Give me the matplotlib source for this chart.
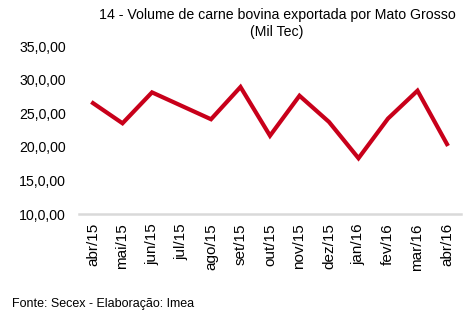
import matplotlib
matplotlib.use("Agg")
import matplotlib.pyplot as plt

months = ["abr/15", "mai/15", "jun/15", "jul/15", "ago/15", "set/15", "out/15",
          "nov/15", "dez/15", "jan/16", "fev/16", "mar/16", "abr/16"]
volume = [26.5, 23.5, 28.1, 26.1, 24.1, 28.9, 21.65, 27.6, 23.7, 18.3, 24.2, 28.35, 20.4]
yticks = [10, 15, 20, 25, 30, 35]
ytick_labels = ["10,0,00", "15,0,00", "20,0,00", "25,0,00", "30,0,00", "35,0,00"]

plt.rcParams['font.family'] = ['Liberation Sans', 'DejaVu Sans']

fig = plt.figure(figsize=(4.77, 3.24), dpi=100)
ax = fig.add_axes([79/477, 1 - 214/324, (461-79)/477, (214-46)/324])

x = list(range(len(months)))
ax.plot(x, volume, color="#C8001A", linewidth=3.0, solid_joinstyle="miter")

ax.set_ylim(10, 35)
ax.set_xlim(-0.475, len(months) - 1 + 0.475)
ax.set_yticks(yticks)
ax.set_yticklabels(ytick_labels, fontsize=10.2)
ax.set_xticks(x)
ax.set_xticklabels(months, rotation=90, fontsize=11)

for s in ["top", "right", "left"]:
    ax.spines[s].set_visible(False)
ax.spines["bottom"].set_color("#D9D9D9")
ax.spines["bottom"].set_linewidth(1.8)
ax.tick_params(axis="y", length=0, pad=9.4)
ax.tick_params(axis="x", length=0, pad=6.5)

fig.text(277/477, 1 - 15/324, "14 - Volume de carne bovina exportada por Mato Grosso",
         ha="center", va="center", fontsize=10.2)
fig.text(277/477, 1 - 32/324, "(Mil Tec)", ha="center", va="center", fontsize=10.2)
fig.text(12/477, 1 - 304/324, "Fonte: Secex - Elaboração: Imea", ha="left", va="center",
         fontsize=9)

fig.savefig("out.png", dpi=100)
